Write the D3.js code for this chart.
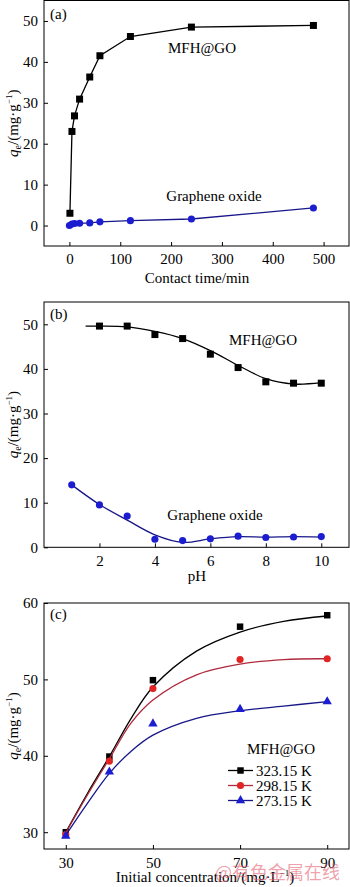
<!DOCTYPE html>
<html><head><meta charset="utf-8">
<script src="https://cdn.jsdelivr.net/npm/d3@7"></script>
<style>body{margin:0;background:#fff}svg{display:block}</style>
</head><body><svg id="c" width="350" height="887"></svg>
<script>
// ---------- data ----------
// panel (a): contact time
const timeMFH = [1, 5, 10, 20, 40, 60, 120, 240, 480];
const qeTimeMFH = [3.0, 23.0, 26.8, 30.9, 36.3, 41.5, 46.2, 48.5, 48.9];
const timeGO = [0, 5, 10, 20, 40, 60, 120, 240, 480];
const qeTimeGO = [0.0, 0.35, 0.5, 0.55, 0.65, 0.9, 1.2, 1.6, 4.3];
const ticksA_x = [0, 100, 200, 300, 400, 500];
const ticksA_y = [0, 10, 20, 30, 40, 50];
// panel (b): pH
const pHMFH = [2, 3, 4, 5, 6, 7, 8, 9, 10];
const qePHMFH = [49.6, 49.6, 47.7, 46.8, 43.3, 40.3, 37.1, 36.8, 36.8];
const pHFitMFH = [1.5, 2, 3, 4, 5, 6, 7, 8, 9, 10];
const qeFitMFH = [49.6, 49.6, 49.4, 48.4, 46.8, 44.1, 40.8, 37.8, 36.6, 36.9];
const pHGO = [1, 2, 3, 4, 5, 6, 7, 8, 9, 10];
const qePHGO = [14.0, 9.5, 7.0, 1.8, 1.5, 1.9, 2.5, 2.2, 2.3, 2.4];
const pHFitGO = [1, 2, 3, 4, 5, 6, 7, 8, 9, 10];
const qeFitGO = [14.0, 9.6, 6.1, 2.8, 1.1, 1.9, 2.4, 2.3, 2.4, 2.3];
const ticksB_x = [2, 4, 6, 8, 10];
const ticksB_y = [0, 10, 20, 30, 40, 50];
// panel (c): initial concentration
const conc = [30, 40, 50, 70, 90];
const qe323 = [30.0, 39.9, 49.9, 56.9, 58.4];
const qe298 = [29.7, 39.3, 48.8, 52.6, 52.7];
const qe273 = [29.5, 37.9, 44.2, 46.1, 47.1];
const concFit = [30, 35, 40, 45, 50, 60, 70, 80, 90];
const fit323 = [30.0, 35.1, 39.9, 44.9, 49.0, 53.7, 56.2, 57.6, 58.3];
const fit298 = [29.9, 34.9, 39.6, 44.3, 47.3, 50.6, 52.0, 52.6, 52.7];
const fit273 = [29.6, 33.8, 37.7, 40.6, 42.7, 44.9, 45.9, 46.5, 47.1];
const ticksC_x = [30, 50, 70, 90];
const ticksC_y = [30, 40, 50, 60];
const legendLabels = ["323.15 K", "298.15 K", "273.15 K"];

// ---------- drawing ----------
const SERIF = '"Liberation Serif","Times New Roman",serif';
const svg = d3.select("#c");
const L = 44, R = 349;
const BLACK = "#000", BLUE_M = "#1c1cd0", BLUE_L = "#17178a", RED_M = "#e02424", RED_L = "#b02a3c";

function panel(o) {
  const x = d3.scaleLinear().domain(o.xd).range([L, R]);
  const y = d3.scaleLinear().domain(o.yd).range([o.bottom, o.top]);
  const g = svg.append("g");
  const ax = g.append("g").attr("transform", `translate(0,${o.bottom})`)
    .call(d3.axisBottom(x).tickValues(o.xt).tickSizeInner(-4).tickSizeOuter(0).tickPadding(o.xpad));
  const ay = g.append("g").attr("transform", `translate(${L},0)`)
    .call(d3.axisLeft(y).tickValues(o.yt).tickSizeInner(-4).tickSizeOuter(0).tickPadding(6));
  [ax, ay].forEach(a => {
    a.select(".domain").remove();
    a.attr("font-family", null).attr("font-size", null);
    a.selectAll("line").attr("stroke", "#000");
    a.selectAll("text").style("font-size", "15px").attr("fill", "#000");
  });
  g.append("rect").attr("x", L).attr("y", o.top).attr("width", R - L).attr("height", o.bottom - o.top)
    .attr("fill", "none").attr("stroke", "#000").attr("stroke-width", 1);
  // y title
  const t = g.append("text").attr("transform", `translate(18,${(o.top + o.bottom) / 2}) rotate(-90)`)
    .attr("text-anchor", "middle").style("font-size", "15px");
  t.append("tspan").text("q").style("font-style", "italic");
  t.append("tspan").text("e").style("font-size", "10px").attr("dy", 3);
  t.append("tspan").text("/(mg·g").attr("dy", -3);
  t.append("tspan").text("−1").style("font-size", "9px").attr("dy", -6);
  t.append("tspan").text(")").attr("dy", 6);
  // panel letter
  g.append("text").attr("x", 50).attr("y", o.top + o.letterDy).text(o.letter).style("font-size", "15px");
  return { x, y, g };
}

function series(p, xs, ys, color, curve, width) {
  const line = d3.line().x((d, i) => p.x(xs[i])).y((d, i) => p.y(ys[i])).curve(curve);
  p.g.append("path").attr("d", line(xs)).attr("fill", "none").attr("stroke", color).attr("stroke-width", width);
}
function marks(p, xs, ys, color, type, size) {
  p.g.selectAll(null).data(xs).enter().append("path")
    .attr("transform", (d, i) => `translate(${p.x(d)},${p.y(ys[i])})`)
    .attr("d", d3.symbol().type(type).size(size)).attr("fill", color);
}
function label(p, x, y, s) {
  return p.g.append("text").attr("x", x).attr("y", y).attr("text-anchor", "middle").style("font-size", "15px").text(s);
}

// (a)
const pa = panel({ xd: [-50, 550], yd: [-5, 55], top: 0.5, bottom: 246, xt: ticksA_x, yt: ticksA_y, xpad: 7, letter: "(a)", letterDy: 18 });
series(pa, timeMFH, qeTimeMFH, BLACK, d3.curveLinear, 1.3);
marks(pa, timeMFH, qeTimeMFH, BLACK, d3.symbolSquare, 49);
series(pa, timeGO, qeTimeGO, BLUE_L, d3.curveLinear, 1.3);
marks(pa, timeGO, qeTimeGO, BLUE_M, d3.symbolCircle, 40);
label(pa, 202, 53, "MFH@GO");
label(pa, 214, 201, "Graphene oxide");
label(pa, 197, 283, "Contact time/min");

// (b)
const pb = panel({ xd: [0, 11], yd: [0, 55], top: 302, bottom: 547.3, xt: ticksB_x, yt: ticksB_y, xpad: 8, letter: "(b)", letterDy: 17 });
series(pb, pHFitMFH, qeFitMFH, BLACK, d3.curveCatmullRom.alpha(0.5), 1.3);
marks(pb, pHMFH, qePHMFH, BLACK, d3.symbolSquare, 49);
series(pb, pHFitGO, qeFitGO, BLUE_L, d3.curveCatmullRom.alpha(0.5), 1.3);
marks(pb, pHGO, qePHGO, BLUE_M, d3.symbolCircle, 40);
label(pb, 263, 345, "MFH@GO");
label(pb, 215, 520, "Graphene oxide");
label(pb, 197, 581, "pH");

// (c)
const pc = panel({ xd: [25, 95], yd: [27.8, 60], top: 603, bottom: 849, xt: ticksC_x, yt: ticksC_y, xpad: 8, letter: "(c)", letterDy: 16 });
const cs = [
  { fit: fit323, pts: qe323, lc: BLACK, mc: BLACK, sym: d3.symbolSquare, size: 42 },
  { fit: fit298, pts: qe298, lc: RED_L, mc: RED_M, sym: d3.symbolCircle, size: 40 },
  { fit: fit273, pts: qe273, lc: BLUE_L, mc: BLUE_M, sym: d3.symbolTriangle, size: 38 }
];
cs.forEach(s => {
  series(pc, concFit, s.fit, s.lc, d3.curveCatmullRom.alpha(0.5), 1.3);
  marks(pc, conc, s.pts, s.mc, s.sym, s.size);
});
label(pc, 281, 754, "MFH@GO");
cs.forEach((s, i) => {
  const yy = 770.5 + i * 15;
  pc.g.append("line").attr("x1", 228).attr("x2", 253).attr("y1", yy).attr("y2", yy).attr("stroke", s.lc).attr("stroke-width", 1.3);
  pc.g.append("path").attr("transform", `translate(240.5,${yy})`).attr("d", d3.symbol().type(s.sym).size(s.size)).attr("fill", s.mc);
  pc.g.append("text").attr("x", 256).attr("y", yy + 5).style("font-size", "15px").text(legendLabels[i]);
});
const xt = label(pc, 205, 882, "Initial concentration/(mg·L");
xt.append("tspan").text("−1").style("font-size", "9px").attr("dy", -6);
xt.append("tspan").text(")").attr("dy", 6);

// all chart text in serif
svg.selectAll("text").style("font-family", SERIF).attr("fill", "#000");

// watermark (overlaps the axis text, as in the reference)
svg.append("text").attr("x", 215).attr("y", 879).text("@有色金属在线")
  .style("font-family", '"Noto Sans CJK SC",sans-serif').style("font-size", "18px").attr("fill", "rgba(225,80,100,0.55)");
</script></body></html>
